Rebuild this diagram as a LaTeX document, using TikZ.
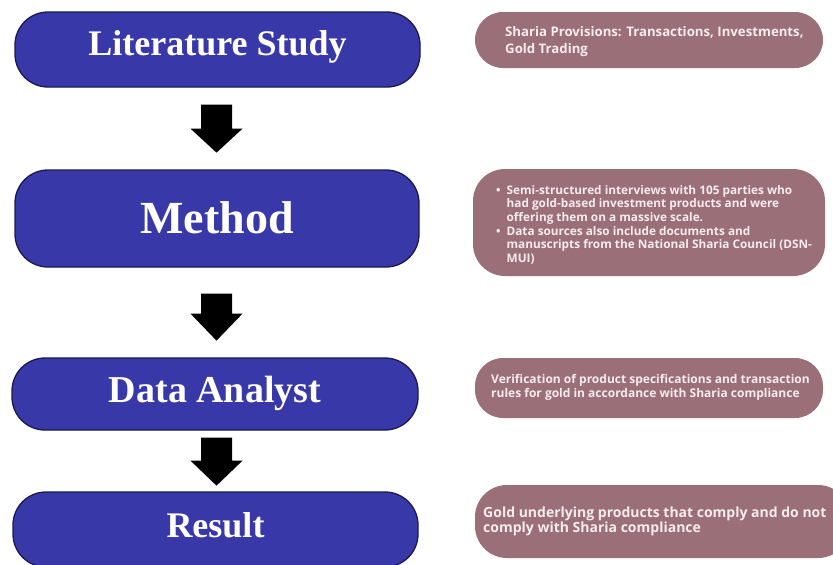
\documentclass[tikz,border=0pt]{standalone}
\usepackage{fontspec}
\setmainfont{Liberation Serif}
\newfontfamily\notefont{Open Sans}
\usetikzlibrary{calc}
\definecolor{stageblue}{HTML}{3838A8}
\definecolor{stageedge}{HTML}{1A1A4E}
\definecolor{notefill}{HTML}{9A6F78}
\definecolor{notetext}{HTML}{F6ECEE}
\tikzset{
  stage/.style={draw=stageedge, line width=1.3pt, fill=stageblue, rounded corners=33pt,
    text=white, inner sep=0pt, text depth=0pt},
  stagefont/.style={font=\fontsize{#1}{#1}\selectfont\bfseries},
  notebox/.style={fill=notefill, draw=none, rounded corners=28pt, inner sep=0pt},
  notelabel/.style={text=notetext, inner sep=0pt, anchor=base west},
  pics/blockdown/.style n args={2}{code={
    \fill[black] (-15.5,0) -- (15.5,0) -- (15.5,#1) -- (26,#1) -- (0,#2) -- (-26,#1) -- (-15.5,#1) -- cycle;}}
}
\begin{document}
\begin{tikzpicture}[x=1pt,y=-1pt]
\useasboundingbox (0,0) rectangle (833,565);
\clip (0,0) rectangle (833,565);
\fill[white] (0,0) rectangle (833,565);

% stages
\node[stage, stagefont=36, minimum width=405pt, minimum height=75pt, text height=11pt] (lit) at (217.5,49.5) {Literature Study};
\node[stage, stagefont=46, minimum width=404pt, minimum height=97pt, text height=29pt] (meth) at (217,218.5) {Method};
\node[stage, stagefont=38, minimum width=406pt, minimum height=72pt, text height=16pt] (data) at (215,394) {Data Analyst};
\node[stage, stagefont=36, minimum width=405pt, minimum height=75pt, text height=15pt] (res) at (215.5,529.5) {Result};

% block arrows
\pic at ($(lit.south)+(-1,17)$) {blockdown={24}{48}};
\pic at ($(meth.south)+(-0.5,26)$) {blockdown={20}{47}};
\pic at ($(data.south)+(1.5,7)$) {blockdown={23}{48}};

% notes
\node[notebox, minimum width=348pt, minimum height=56pt] (n1) at (649,40) {};
\node[notebox, minimum width=352pt, minimum height=107pt, rounded corners=32pt] (n2) at (649,222.5) {};
\node[notebox, minimum width=348pt, minimum height=60pt] (n3) at (649,388) {};
\node[notebox, minimum width=375pt, minimum height=73pt, rounded corners=32pt] (n4) at (662.5,521.5) {};

\node[notelabel, font=\notefont\bfseries\fontsize{13.2}{17}\selectfont] (t1) at (505,36)
  {\begin{tabular}[t]{@{}l@{}}Sharia Provisions: Transactions, Investments,\\Gold Trading\end{tabular}};
\node[notelabel, font=\notefont\bfseries\fontsize{11.8}{13.7}\selectfont] (t2) at (496,194)
  {\begin{tabular}[t]{@{}l@{\hspace{6pt}}l@{}}
   \textbullet & Semi-structured interviews with 105 parties who\\
   & had gold-based investment products and were\\
   & offering them on a massive scale.\\
   \textbullet & Data sources also include documents and\\
   & manuscripts from the National Sharia Council (DSN-\\
   & MUI)
   \end{tabular}};
\node[notelabel, font=\notefont\bfseries\fontsize{12}{14.5}\selectfont] (t3) at (491,383)
  {\begin{tabular}[t]{@{}l@{}}Verification of product specifications and transaction\\rules for gold in accordance with Sharia compliance\end{tabular}};
\node[notelabel, font=\notefont\bfseries\fontsize{14}{15.5}\selectfont] (t4) at (483,517)
  {\begin{tabular}[t]{@{}l@{}}Gold underlying products that comply and do not\\comply with Sharia compliance\end{tabular}};
\end{tikzpicture}
\end{document}
